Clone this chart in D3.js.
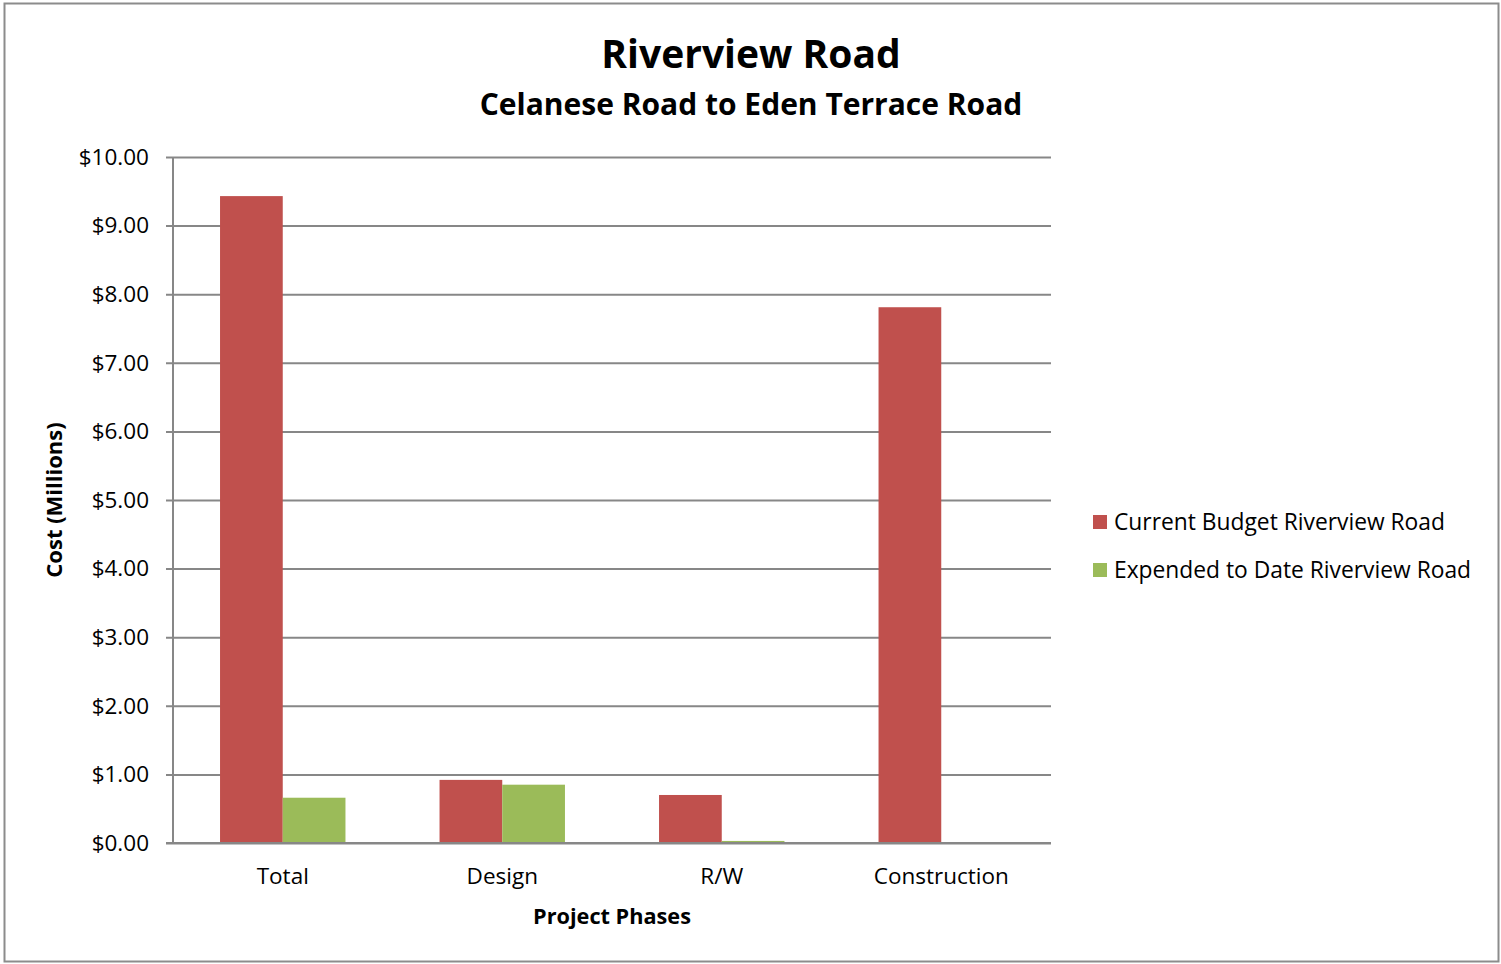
<!DOCTYPE html>
<html>
<head>
<meta charset="utf-8">
<script src="https://cdn.jsdelivr.net/npm/d3@7"></script>
<style>
  body { margin: 0; background: #fff; }
  text { font-family: "Open Sans", "Noto Sans", sans-serif; fill: #000; }
</style>
</head>
<body>
<div id="chart"></div>
<script>
// data
const categories = ["Total", "Design", "R/W", "Construction"];
const seriesNames = ["Current Budget Riverview Road", "Expended to Date Riverview Road"];
const budget = [9.43, 0.92, 0.70, 7.81];
const expended = [0.66, 0.85, 0.03, 0];
const yTicks = [0, 1, 2, 3, 4, 5, 6, 7, 8, 9, 10];
const colors = ["#C0504D", "#9BBB59"];

const width = 1501;
const height = 964;
const margin = { top: 157, right: 450, bottom: 121, left: 173 };

const svg = d3
	.select("#chart")
	.append("svg")
	.attr("width", width)
	.attr("height", height);

// outer frame
svg.append("rect")
	.attr("x", 4.5)
	.attr("y", 3.5)
	.attr("width", 1494)
	.attr("height", 958)
	.attr("fill", "#fff")
	.attr("stroke", "#8c8c8c")
	.attr("stroke-width", 2);

const x0 = d3
	.scaleBand()
	.domain(categories)
	.range([margin.left, width - margin.right])
	.paddingInner(1.5 / 3.5)
	.paddingOuter(0.75 / 3.5);

const x1 = d3
	.scaleBand()
	.domain(seriesNames)
	.range([0, x0.bandwidth()]);

const y = d3
	.scaleLinear()
	.domain([0, 10])
	.range([height - margin.bottom, margin.top]);

// gridlines + y axis
const yAxis = d3
	.axisLeft(y)
	.tickValues(yTicks)
	.tickSize(-(width - margin.left - margin.right))
	.tickFormat((d) => "$" + d3.format(".2f")(d));

const gy = svg
	.append("g")
	.attr("transform", `translate(${margin.left},0)`)
	.call(yAxis);
gy.select(".domain").remove();
gy.selectAll(".tick line")
	.attr("x1", -7)
	.attr("stroke", "#878787")
	.attr("stroke-width", 2);
gy.selectAll(".tick text")
	.attr("x", -24)
	.style("font-size", "22.5px");

// vertical axis line
svg.append("line")
	.attr("x1", margin.left)
	.attr("x2", margin.left)
	.attr("y1", margin.top)
	.attr("y2", height - margin.bottom)
	.attr("stroke", "#878787")
	.attr("stroke-width", 2);

// bars
const rows = categories.map((c, i) => ({ cat: c, vals: [budget[i], expended[i]] }));

const groups = svg
	.selectAll(".group")
	.data(rows)
	.enter()
	.append("g")
	.attr("class", "group")
	.attr("transform", (d) => `translate(${x0(d.cat)},0)`);

groups
	.selectAll("rect")
	.data((d) => d.vals.map((v, j) => ({ name: seriesNames[j], v: v, j: j })))
	.enter()
	.append("rect")
	.attr("x", (d) => x1(d.name))
	.attr("width", x1.bandwidth())
	.attr("y", (d) => y(d.v))
	.attr("height", (d) => y(0) - y(d.v))
	.attr("fill", (d) => colors[d.j]);

// x axis
const gx = svg
	.append("g")
	.attr("transform", `translate(0,${height - margin.bottom})`)
	.call(d3.axisBottom(x0).tickSize(0).tickPadding(25));
gx.select(".domain").remove();
gx.selectAll(".tick text").style("font-size", "22.5px");

svg.append("line")
	.attr("x1", margin.left - 7)
	.attr("x2", width - margin.right)
	.attr("y1", y(0))
	.attr("y2", y(0))
	.attr("stroke", "#878787")
	.attr("stroke-width", 2);

// titles
svg.append("text")
	.attr("x", 751)
	.attr("y", 68)
	.attr("text-anchor", "middle")
	.style("font-size", "39px")
	.style("font-weight", "bold")
	.text("Riverview Road");

svg.append("text")
	.attr("x", 751)
	.attr("y", 115)
	.attr("text-anchor", "middle")
	.style("font-size", "30px")
	.style("font-weight", "bold")
	.text("Celanese Road to Eden Terrace Road");

svg.append("text")
	.attr("x", (margin.left + width - margin.right) / 2)
	.attr("y", 924)
	.attr("text-anchor", "middle")
	.style("font-size", "21.7px")
	.style("font-weight", "bold")
	.text("Project Phases");

svg.append("text")
	.attr("transform", `translate(62,${(margin.top + height - margin.bottom) / 2}) rotate(-90)`)
	.attr("text-anchor", "middle")
	.style("font-size", "22px")
	.style("font-weight", "bold")
	.text("Cost (Millions)");

// legend
const legend = svg
	.selectAll(".legend")
	.data(seriesNames)
	.enter()
	.append("g")
	.attr("class", "legend")
	.attr("transform", (d, i) => `translate(1093,${515 + i * 48})`);

legend.append("rect")
	.attr("width", 14)
	.attr("height", 14)
	.attr("fill", (d, i) => colors[i]);

legend.append("text")
	.attr("x", 21)
	.attr("y", 15)
	.style("font-size", "22.8px")
	.text((d) => d);
</script>
</body>
</html>
